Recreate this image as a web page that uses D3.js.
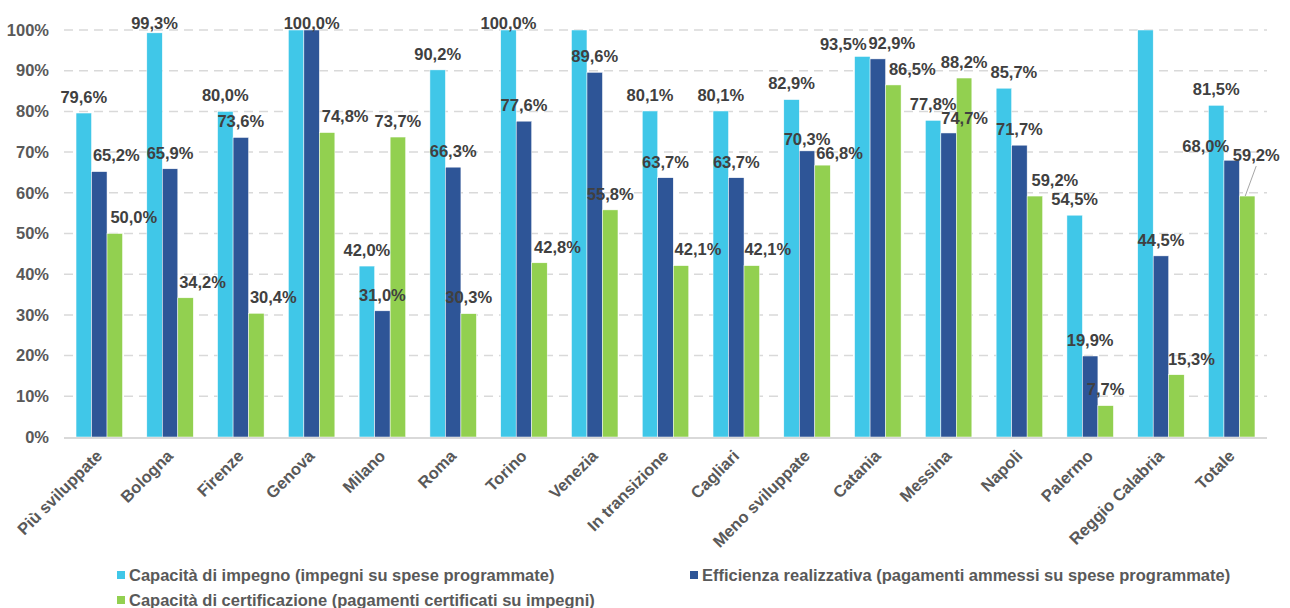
<!DOCTYPE html>
<html>
<head>
<meta charset="utf-8">
<script src="https://cdn.jsdelivr.net/npm/d3@7"></script>
<style>
  body { margin: 0; background: #fff; }
  svg { display: block; font-family: "Liberation Sans", Arial, sans-serif; font-weight: bold; }
</style>
</head>
<body>
<script>
// categories and series
const categories = ["Più sviluppate", "Bologna", "Firenze", "Genova", "Milano", "Roma", "Torino", "Venezia",
  "In transizione", "Cagliari", "Meno sviluppate", "Catania", "Messina", "Napoli", "Palermo", "Reggio Calabria", "Totale"];

const seriesNames = [
  "Capacità di impegno (impegni su spese programmate)",
  "Efficienza realizzativa (pagamenti ammessi su spese programmate)",
  "Capacità di certificazione (pagamenti certificati su impegni)"
];

// values in %, bars above 100 are cut at the top of the chart
const impegno = [79.6, 99.3, 80.0, 100.0, 42.0, 90.2, 100.0, 100.0, 80.1, 80.1, 82.9, 93.5, 77.8, 85.7, 54.5, 100.0, 81.5];
const efficienza = [65.2, 65.9, 73.6, 100.0, 31.0, 66.3, 77.6, 89.6, 63.7, 63.7, 70.3, 92.9, 74.7, 71.7, 19.9, 44.5, 68.0];
const certificazione = [50.0, 34.2, 30.4, 74.8, 73.7, 30.3, 42.8, 55.8, 42.1, 42.1, 66.8, 86.5, 88.2, 59.2, 7.7, 15.3, 59.2];

const yTicks = [0, 10, 20, 30, 40, 50, 60, 70, 80, 90, 100];

// bars whose label is not shown in the original (value over 100%)
const hiddenLabels = ["Genova|0", "Venezia|0", "Reggio Calabria|0"];

const colors = ["#40C7E8", "#2E5597", "#92D050"];

// label nudges (px) where the original labels were moved by hand
const labelShift = {
  "Più sviluppate|1": [17, 0], "Più sviluppate|2": [19, 0],
  "Bologna|2": [17, 0], "Firenze|2": [17, 0], "Genova|2": [18, 0],
  "Torino|2": [18, 0], "In transizione|2": [17, 0], "Cagliari|2": [16, 0],
  "Meno sviluppate|1": [0, 4], "Meno sviluppate|2": [17, 4],
  "Catania|0": [-19, 4], "Catania|1": [14, 0], "Catania|2": [19, 0],
  "Messina|1": [16, 1], "Napoli|0": [10, 0], "Napoli|2": [20, 0],
  "Reggio Calabria|2": [15, 0], "Totale|1": [-26, 2], "Totale|2": [9, -25]
};

const allSeries = [impegno, efficienza, certificazione];
const rows = [];
categories.forEach(function(c, i) {
  allSeries.forEach(function(s, k) {
    rows.push({cat: c, k: k, value: s[i]});
  });
});

const W = 1290, H = 608;
const plot = {left: 64, right: 1267, top: 30, bottom: 437};
const fontSize = 16.5;

const svg = d3.select("body").append("svg")
  .attr("width", W)
  .attr("height", H);

const x0 = d3.scaleBand().domain(categories).range([plot.left, plot.right])
  .paddingInner(0.343).paddingOuter(0.17);
const x1 = d3.scaleBand().domain([0, 1, 2]).range([0, x0.bandwidth()]);
const y = d3.scaleLinear().domain([0, 100]).range([plot.bottom, plot.top]);

const fmt = function(v) { return d3.format(".1f")(v).replace(".", ",") + "%"; };

// gridlines
svg.append("g")
  .selectAll("line")
  .data(yTicks.filter(function(t) { return t > 0; }))
  .enter()
  .append("line")
  .attr("x1", plot.left)
  .attr("x2", plot.right)
  .attr("y1", function(d) { return y(d); })
  .attr("y2", function(d) { return y(d); })
  .attr("stroke", "#D9D9D9")
  .attr("stroke-width", 1.5)
  .attr("stroke-dasharray", "9,6");

// y axis labels
const yAxis = d3.axisLeft(y).tickValues(yTicks).tickSize(0).tickPadding(15)
  .tickFormat(function(d) { return d + "%"; });
const gy = svg.append("g")
  .attr("transform", "translate(" + plot.left + ",0)")
  .call(yAxis);
gy.select(".domain").remove();
gy.selectAll("text")
  .attr("font-size", fontSize)
  .attr("font-family", "Liberation Sans, Arial, sans-serif")
  .attr("font-weight", "bold")
  .attr("fill", "#595959");

// bars
svg.append("g")
  .selectAll("rect")
  .data(rows)
  .enter()
  .append("rect")
  .attr("x", function(d) { return x0(d.cat) + x1(d.k); })
  .attr("width", x1.bandwidth())
  .attr("y", function(d) { return y(Math.min(d.value, 100)); })
  .attr("height", function(d) { return plot.bottom - y(Math.min(d.value, 100)); })
  .attr("fill", function(d) { return colors[d.k]; })
  .attr("stroke", "#fff")
  .attr("stroke-width", 0.5);

// x axis line
svg.append("line")
  .attr("x1", plot.left)
  .attr("x2", plot.right)
  .attr("y1", plot.bottom + 1)
  .attr("y2", plot.bottom + 1)
  .attr("stroke", "#D9D9D9")
  .attr("stroke-width", 2);

// category labels
svg.append("g")
  .selectAll("text")
  .data(categories)
  .enter()
  .append("text")
  .attr("transform", function(d) {
    return "translate(" + (x0(d) + x0.bandwidth() / 2 + 4) + "," + (plot.bottom + 20) + ") rotate(-45)";
  })
  .attr("text-anchor", "end")
  .attr("font-size", fontSize)
  .attr("fill", "#595959")
  .text(function(d) { return d; });

// data labels
const labelRows = rows.filter(function(d) { return hiddenLabels.indexOf(d.cat + "|" + d.k) < 0; });
function labelPos(d) {
  const s = labelShift[d.cat + "|" + d.k] || [0, 0];
  const cx = x0(d.cat) + x1(d.k) + x1.bandwidth() / 2;
  const cy = Math.max(y(Math.min(d.value, 100)) - 16, plot.top - 7);
  return [cx + s[0], cy + s[1]];
}

// leader line for the moved label of Totale
const moved = rows.filter(function(d) { return d.cat === "Totale" && d.k === 2; });
svg.append("g")
  .selectAll("line")
  .data(moved)
  .enter()
  .append("line")
  .attr("x1", function(d) { return x0(d.cat) + x1(d.k) + x1.bandwidth() / 2 - 2; })
  .attr("y1", function(d) { return y(d.value); })
  .attr("x2", function(d) { return labelPos(d)[0]; })
  .attr("y2", function(d) { return labelPos(d)[1] + 11; })
  .attr("stroke", "#A6A6A6")
  .attr("stroke-width", 1);

svg.append("g")
  .selectAll("text")
  .data(labelRows)
  .enter()
  .append("text")
  .attr("x", function(d) { return labelPos(d)[0]; })
  .attr("y", function(d) { return labelPos(d)[1]; })
  .attr("dy", "0.35em")
  .attr("text-anchor", "middle")
  .attr("font-size", fontSize)
  .attr("fill", "#404040")
  .text(function(d) { return fmt(d.value); });

// legend
const legendPos = [[117, 571], [690, 571], [117, 596]];
const legend = svg.append("g")
  .selectAll("g")
  .data(seriesNames)
  .enter()
  .append("g")
  .attr("transform", function(d, i) { return "translate(" + legendPos[i][0] + "," + legendPos[i][1] + ")"; });

legend.append("rect")
  .attr("width", 8)
  .attr("height", 8)
  .attr("fill", function(d, i) { return colors[i]; });

legend.append("text")
  .attr("x", 12)
  .attr("y", 4)
  .attr("dy", "0.35em")
  .attr("font-size", fontSize)
  .attr("fill", "#595959")
  .text(function(d) { return d; });
</script>
</body>
</html>
